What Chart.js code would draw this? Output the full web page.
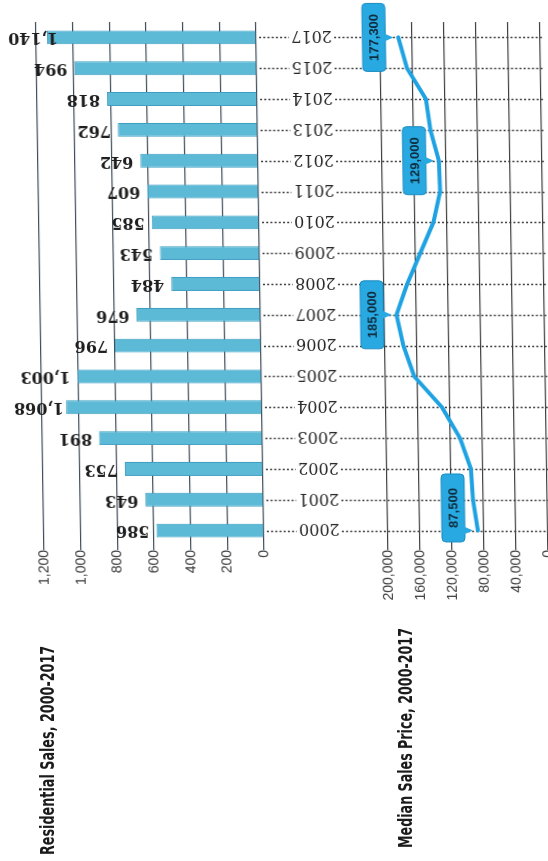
<!DOCTYPE html>
<html>
<head>
<meta charset="utf-8">
<script src="https://cdn.jsdelivr.net/npm/chart.js@4.4.1/dist/chart.umd.min.js"></script>
<style>
html,body{margin:0;padding:0;background:#ffffff;width:548px;height:861px;overflow:hidden;}
#page{position:relative;width:548px;height:861px;overflow:hidden;background:#fff;}
#plot{position:absolute;left:0;top:0;width:548px;height:861px;transform:skewX(0.9deg);transform-origin:0 284px;}
#plot canvas{position:absolute;left:0;top:0;}
.title{position:absolute;transform-origin:0 0;white-space:nowrap;font-weight:bold;color:#1b1b1b;
  line-height:16px;font-size:19px;font-family:'Liberation Sans Narrow','DejaVu Sans Condensed','Roboto',sans-serif;}
</style>
</head>
<body>
<div id="page">
  <div id="plot">
    <canvas id="sales" width="548" height="861"></canvas>
    <canvas id="price" width="580" height="861"></canvas>
  </div>
  <div class="title" data-len="209" style="left:39px;top:855px">Residential Sales, 2000-2017</div>
  <div class="title" data-len="220" style="left:397px;top:848px">Median Sales Price, 2000-2017</div>
</div>
<script>
// ---- data ----
const years = ['2000','2001','2002','2003','2004','2005','2006','2007','2008','2009','2010','2011','2012','2013','2014','2015','2017'];
const residentialSales = [586,643,753,891,1068,1003,796,676,484,543,585,607,642,762,818,994,1140];
const salesTicks = [0,200,400,600,800,1000,1200];
const medianPrice = [87500,93000,95000,108000,130000,164000,177000,185000,171000,154000,137000,128000,129000,139000,144000,167000,177300];
const priceTicks = [0,40000,80000,120000,160000,200000];
const priceCalloutYears = ['2000','2007','2012','2017'];

Chart.defaults.animation = false;
Chart.defaults.devicePixelRatio = 1;
const fmt = v => v.toLocaleString('en-US');

const tickFont = {family:"'Liberation Sans', Arial, sans-serif", size:14};
const tickColor = '#3a3a3a';

// year labels (upside-down) + dotted leader lines
const yearPlugin = {
  id:'yearLabels',
  beforeDatasetsDraw(chart){
    const ctx = chart.ctx, ys = chart.scales.y, right = chart.chartArea.right;
    ctx.save();
    ctx.strokeStyle = '#3d3d3d';
    ctx.lineWidth = 1.3;
    ctx.setLineDash([2,2.2]);
    years.forEach((yr,i)=>{
      const y = Math.round(ys.getPixelForValue(i)) + 0.5;
      ctx.beginPath();
      ctx.moveTo(right+3, y); ctx.lineTo(293, y);
      ctx.moveTo(338, y); ctx.lineTo(548, y);
      ctx.stroke();
    });
    ctx.setLineDash([]);
    ctx.fillStyle = '#262626';
    ctx.font = "16px 'DejaVu Serif', serif";
    ctx.textAlign = 'center';
    ctx.textBaseline = 'middle';
    years.forEach((yr,i)=>{
      const y = ys.getPixelForValue(i);
      ctx.save();
      ctx.translate(315.5, y - 2);
      ctx.rotate(Math.PI);
      ctx.fillText(yr, 0, 0);
      ctx.restore();
    });
    ctx.restore();
  }
};

// bar value labels (upside-down)
const barLabelPlugin = {
  id:'barLabels',
  afterDatasetsDraw(chart){
    const ctx = chart.ctx;
    const meta = chart.getDatasetMeta(0);
    ctx.save();
    ctx.fillStyle = '#1e1e1e';
    ctx.font = "bold 16px 'DejaVu Serif', serif";
    ctx.textAlign = 'left';
    ctx.textBaseline = 'middle';
    meta.data.forEach((bar,i)=>{
      const txt = fmt(residentialSales[i]);
      const w = ctx.measureText(txt).width;
      const x = Math.max(bar.x - 7, w + 12);
      ctx.save();
      ctx.translate(x, bar.y);
      ctx.rotate(Math.PI);
      ctx.fillText(txt, 0, 0);
      ctx.restore();
    });
    ctx.restore();
  }
};

// callout boxes on the price line
const calloutPlugin = {
  id:'callouts',
  afterDatasetsDraw(chart){
    const ctx = chart.ctx;
    const meta = chart.getDatasetMeta(0);
    const area = chart.chartArea;
    ctx.save();
    priceCalloutYears.forEach(yr=>{
      const i = years.indexOf(yr);
      const pt = meta.data[i];
      const w = 23, h = 68;
      const right = pt.x - 13, left = right - w;
      let top = pt.y - h/2;
      if (top + h > area.bottom - 4) top = area.bottom - 4 - h;
      if (top < 2) top = 2;
      ctx.fillStyle = '#29a9e1';
      ctx.strokeStyle = '#1b8cc2';
      ctx.lineWidth = 1;
      ctx.beginPath();
      ctx.roundRect(left, top, w, h, 4);
      ctx.fill(); ctx.stroke();
      ctx.beginPath();
      ctx.moveTo(right - 1, pt.y - 4);
      ctx.lineTo(pt.x - 5, pt.y);
      ctx.lineTo(right - 1, pt.y + 4);
      ctx.closePath();
      ctx.fill();
      ctx.save();
      ctx.translate(left + w/2, top + h/2);
      ctx.rotate(-Math.PI/2);
      ctx.fillStyle = '#0f2c3d';
      ctx.font = "bold 13px 'Liberation Sans', Arial, sans-serif";
      ctx.textAlign = 'center';
      ctx.textBaseline = 'middle';
      ctx.fillText(fmt(medianPrice[i]), 0, 1);
      ctx.restore();
    });
    ctx.restore();
  }
};

new Chart(document.getElementById('sales'), {
  type:'bar',
  data:{
    labels: years,
    datasets:[{
      data: residentialSales,
      backgroundColor:'#5cbad7',
      borderColor:'#3f9fc2',
      borderWidth:1,
      barPercentage:0.45,
      categoryPercentage:1
    }]
  },
  options:{
    indexAxis:'y',
    responsive:false,
    layout:{padding:{left:40,right:288,top:22,bottom:255}},
    plugins:{legend:{display:false},tooltip:{enabled:false}},
    scales:{
      x:{
        type:'linear', min:0, max:1200, reverse:true,
        afterBuildTicks(s){ s.ticks = salesTicks.map(v=>({value:v})); },
        afterFit(s){ s.height = 60; },
        border:{display:false},
        grid:{color:'#3e4c59', lineWidth:1.2, tickLength:4},
        ticks:{minRotation:90, maxRotation:90, padding:0, color:tickColor, font:tickFont, callback:v=>fmt(v)}
      },
      y:{ type:'category', reverse:true, display:false, offset:true }
    }
  },
  plugins:[yearPlugin, barLabelPlugin]
});

new Chart(document.getElementById('price'), {
  type:'line',
  data:{
    labels: years,
    datasets:[{
      data: medianPrice,
      borderColor:'#1ea2e2',
      borderWidth:4,
      pointRadius:0,
      tension:0,
      fill:false,
      borderJoinStyle:'round',
      borderCapStyle:'round'
    }]
  },
  options:{
    indexAxis:'y',
    responsive:false,
    layout:{padding:{left:384,right:36,top:22,bottom:255}},
    plugins:{legend:{display:false},tooltip:{enabled:false}},
    scales:{
      x:{
        type:'linear', min:0, max:200000, reverse:true,
        afterBuildTicks(s){ s.ticks = priceTicks.map(v=>({value:v})); },
        afterFit(s){ s.height = 60; },
        border:{display:false},
        grid:{color:'#3e3e3e', lineWidth:1.2, tickLength:4},
        ticks:{minRotation:90, maxRotation:90, padding:0, color:tickColor, font:tickFont, callback:v=>fmt(v)}
      },
      y:{ type:'category', reverse:true, display:false, offset:true }
    }
  },
  plugins:[calloutPlugin]
});

// condensed titles, rotated to read bottom-to-top
document.querySelectorAll('.title').forEach(el=>{
  const target = +el.dataset.len;
  const w = el.offsetWidth;
  el.style.transform = 'rotate(-90deg) scaleX(' + (target / w).toFixed(4) + ')';
});
</script>
</body>
</html>
